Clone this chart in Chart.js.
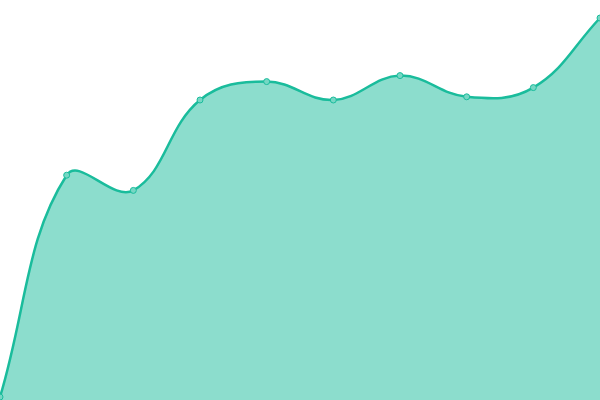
<!DOCTYPE html>
<html>
<head>
<meta charset="utf-8">
<script src="https://cdn.jsdelivr.net/npm/chart.js@4"></script>
<style>
  html, body { margin: 0; padding: 0; background: #fff; }
  #wrap { position: relative; width: 600px; height: 400px; overflow: hidden; }
  /* points overflow the plot area by 5px, so the canvas sits 5px out on each side */
  #areaChart { position: absolute; left: -5px; top: -5px; }
</style>
</head>
<body>
<div id="wrap"><canvas id="areaChart" width="610" height="410"></canvas></div>
<script>
// values
const labels = ['1', '2', '3', '4', '5', '6', '7', '8', '9', '10'];
const values = [0.75, 56.2, 52.4, 75, 79.6, 75, 81.1, 75.8, 78.1, 95.5];

const ctx = document.getElementById('areaChart').getContext('2d');
new Chart(ctx, {
    type: 'line',
    data: {
        labels: labels,
        datasets: [{
            data: values,
            borderColor: '#1abc9c',
            backgroundColor: 'rgba(26, 188, 156, 0.5)',
            borderWidth: 2.5,
            fill: 'origin',
            tension: 0.4,
            pointRadius: 3,
            pointBackgroundColor: '#76d7c4',
            pointBorderColor: '#1abc9c',
            pointBorderWidth: 1
        }]
    },
    options: {
        responsive: false,
        animation: false,
        plugins: {
            legend: { display: false },
            tooltip: { enabled: false }
        },
        scales: {
            x: { display: false, offset: false },
            y: { display: false, min: 0, max: 100 }
        }
    }
});
</script>
</body>
</html>
